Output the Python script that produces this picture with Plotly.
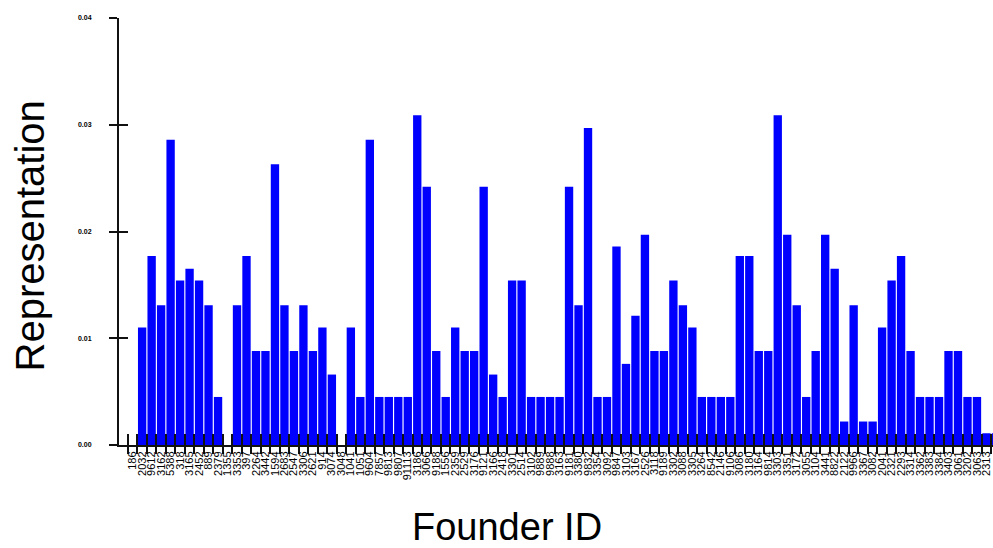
import plotly.graph_objects as go

# Founder IDs (tick labels, estimated - too small to read exactly)
founder_ids = [
    "186", "2032", "9612", "3162", "5388", "318", "3165", "2452", "889", "2379",
    "1355", "3353", "397", "2264", "3442", "1594", "2683", "2547", "3306", "2621",
    "914", "3074", "3048", "1041", "1051", "9604", "7857", "9813", "9807", "91113",
    "3186", "3066", "9188", "1556", "2359", "2529", "3176", "9121", "3166", "2418",
    "3301", "2514", "3102", "9889", "9888", "3163", "9181", "3380", "9832", "3354",
    "3092", "9847", "3103", "3167", "2526", "3118", "9189", "3302", "3088", "3305",
    "3264", "8542", "2146", "9106", "3086", "3180", "3164", "9814", "3303", "3351",
    "3172", "3055", "3104", "3441", "8822", "2122", "9966", "3367", "3082", "2041",
    "2321", "2293", "3314", "3362", "3383", "3384", "3403", "3061", "3202", "3063",
    "2313", "2314",
]

# Representation values
representation = [
    0.0, 0.0110, 0.0177, 0.0131, 0.0286, 0.0154, 0.0165, 0.0154, 0.0131, 0.0045,
    0.0, 0.0131, 0.0177, 0.0088, 0.0088, 0.0263, 0.0131, 0.0088, 0.0131, 0.0088,
    0.0110, 0.0066, 0.0, 0.0110, 0.0045, 0.0286, 0.0045, 0.0045, 0.0045, 0.0045,
    0.0309, 0.0242, 0.0088, 0.0045, 0.0110, 0.0088, 0.0088, 0.0242, 0.0066, 0.0045,
    0.0154, 0.0154, 0.0045, 0.0045, 0.0045, 0.0045, 0.0242, 0.0131, 0.0297, 0.0045,
    0.0045, 0.0186, 0.0076, 0.0121, 0.0197, 0.0088, 0.0088, 0.0154, 0.0131, 0.0110,
    0.0045, 0.0045, 0.0045, 0.0045, 0.0177, 0.0177, 0.0088, 0.0088, 0.0309, 0.0197,
    0.0131, 0.0045, 0.0088, 0.0197, 0.0165, 0.0022, 0.0131, 0.0022, 0.0022, 0.0110,
    0.0154, 0.0177, 0.0088, 0.0045, 0.0045, 0.0045, 0.0088, 0.0088, 0.0045, 0.0045,
    0.0011, 0.0011,
]

y_ticks = [0.0, 0.01, 0.02, 0.03, 0.04]

FONT = "Arial, Liberation Sans, sans-serif"
W, H = 993, 548
L, R, T, B = 119, 0, 18, 103
x_range = [-1.44, 90.69]
y_range = [0, 0.04]

fig = go.Figure()
fig.add_trace(go.Bar(
    x=founder_ids, y=representation,
    marker=dict(color="#0000FF", line=dict(width=0)),
    showlegend=False, hoverinfo="x+y",
))
# invisible helper trace so the overlay axes (crossing tick marks) get the same categories
fig.add_trace(go.Scatter(
    x=founder_ids, y=representation, xaxis="x2", yaxis="y2",
    mode="markers", marker=dict(opacity=0), hoverinfo="skip", showlegend=False,
))

fig.update_layout(
    width=W, height=H,
    margin=dict(l=L, r=R, t=T, b=B),
    paper_bgcolor="white", plot_bgcolor="white",
    bargap=0.12,
    font=dict(family=FONT, color="black"),
    xaxis=dict(
        type="category", range=x_range,
        categoryorder="array", categoryarray=founder_ids,
        tickmode="linear", tick0=0, dtick=1,
        showline=True, linecolor="#111111", linewidth=2,
        ticks="outside", ticklen=7, tickwidth=1.5, tickcolor="#111111",
        tickson="boundaries", tickangle=-90,
        tickfont=dict(size=11, family=FONT, color="black"),
        showgrid=False, zeroline=False,
    ),
    yaxis=dict(
        range=y_range, tickvals=y_ticks, tickformat=".2f",
        showline=True, linecolor="#111111", linewidth=2,
        ticks="outside", ticklen=8, tickwidth=1.5, tickcolor="#111111",
        tickfont=dict(size=7, family=FONT, color="black", weight="bold"),
        ticklabelstandoff=16,
        showgrid=False, zeroline=False,
    ),
    xaxis2=dict(
        type="category", range=x_range, overlaying="x", anchor="y2", side="bottom",
        categoryorder="array", categoryarray=founder_ids,
        tickmode="linear", tick0=0, dtick=1,
        ticks="inside", ticklen=11, tickwidth=1.5, tickcolor="#111111",
        tickson="boundaries", showticklabels=False,
        showline=False, showgrid=False, zeroline=False,
    ),
    yaxis2=dict(
        range=y_range, tickvals=y_ticks, overlaying="y", anchor="x2", side="left",
        ticks="inside", ticklen=9, tickwidth=1.5, tickcolor="#111111",
        showticklabels=False, showline=False, showgrid=False, zeroline=False,
    ),
)

pw = W - L - R
ph = H - T - B
fig.add_annotation(
    text="Representation", textangle=-90,
    xref="paper", yref="paper",
    x=(29 - L) / pw, y=(H - B - 236.5) / ph,
    xanchor="center", yanchor="middle", showarrow=False,
    font=dict(size=40, family=FONT, color="black"),
)
fig.add_annotation(
    text="Founder ID",
    xref="paper", yref="paper",
    x=(506.7 - L) / pw, y=(H - B - 527) / ph,
    xanchor="center", yanchor="middle", showarrow=False,
    font=dict(size=38, family=FONT, color="black"),
)

fig.write_html(
    "out.html",
    config={"displayModeBar": False},
    post_script="document.body.style.margin='0';document.body.style.overflow='hidden';",
)
